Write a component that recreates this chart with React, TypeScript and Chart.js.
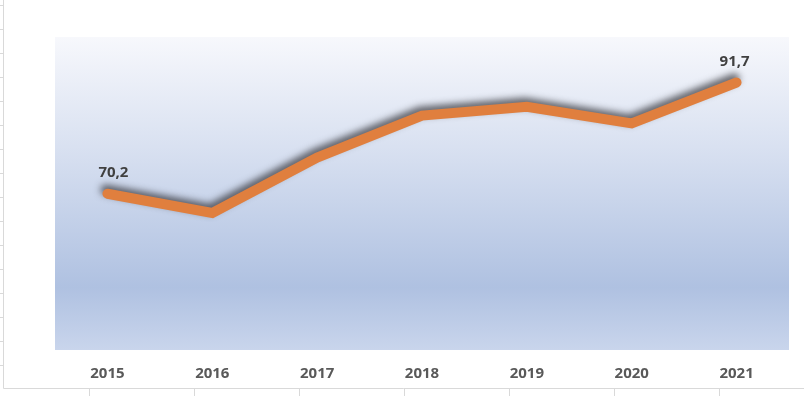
import React, { useEffect, useRef } from "react";
import { Chart, registerables } from "chart.js";

Chart.register(...registerables);

const years = ["2015", "2016", "2017", "2018", "2019", "2020", "2021"];
const values = [70.2, 66.5, 77.2, 85.3, 87.0, 83.8, 91.7];
const labeledIndexes = [0, 6];

export default function App() {
  const ref = useRef<HTMLCanvasElement | null>(null);

  useEffect(() => {
    document.body.style.margin = "0";
    const canvas = ref.current!;
    const bgPlugin = {
      id: "bg",
      beforeDraw(chart: any) {
        const { ctx, chartArea } = chart;
        const { left, right, top, bottom } = chartArea;
        ctx.save();
        const g = ctx.createLinearGradient(0, top, 0, bottom);
        g.addColorStop(0, "#f7f8fc");
        g.addColorStop(0.35, "#d9e1f1");
        g.addColorStop(0.8, "#afc1e1");
        g.addColorStop(1, "#c9d5ec");
        ctx.fillStyle = g;
        ctx.fillRect(left, top, right - left, bottom - top);
        // outer frame lines
        ctx.strokeStyle = "#d9d9d9";
        ctx.lineWidth = 1;
        ctx.beginPath();
        ctx.moveTo(3.5, 0);
        ctx.lineTo(3.5, 388.5);
        ctx.lineTo(804, 388.5);
        for (let y = 5.5; y < 388; y += 24) {
          ctx.moveTo(0, y);
          ctx.lineTo(3.5, y);
        }
        const xs = chart.scales.x;
        for (let i = 0; i < years.length; i++) {
          const px = Math.round(xs.getPixelForValue(i) - 18) + 0.5;
          ctx.moveTo(px, 388.5);
          ctx.lineTo(px, 396);
        }
        ctx.stroke();
        ctx.restore();
      },
      beforeDatasetDraw(chart: any) {
        const ctx = chart.ctx;
        ctx.save();
        ctx.shadowColor = "rgba(50,50,55,0.75)";
        ctx.shadowBlur = 7;
        ctx.shadowOffsetX = -2;
        ctx.shadowOffsetY = -4;
      },
      afterDatasetDraw(chart: any) {
        chart.ctx.restore();
      },
      afterDatasetsDraw(chart: any) {
        const { ctx } = chart;
        const meta = chart.getDatasetMeta(0);
        ctx.save();
        ctx.font = "bold 15px 'Open Sans', sans-serif";
        ctx.fillStyle = "#404040";
        ctx.textAlign = "center";
        ctx.textBaseline = "middle";
        for (const i of labeledIndexes) {
          const p = meta.data[i];
          const txt = values[i].toFixed(1).replace(".", ",");
          ctx.fillText(txt, p.x + (i === 0 ? 6 : -2), p.y - 21);
        }
        ctx.restore();
      },
    };

    const chart = new Chart(canvas, {
      type: "line",
      data: {
        labels: years,
        datasets: [
          {
            data: values,
            borderColor: "#e07f3e",
            borderWidth: 10,
            borderCapStyle: "round",
            borderJoinStyle: "miter",
            pointRadius: 0,
            tension: 0,
            fill: false,
          },
        ],
      },
      options: {
        animation: false,
        responsive: false,
        layout: { padding: { left: 55, right: 15, top: 37, bottom: 0 } },
        plugins: { legend: { display: false }, tooltip: { enabled: false } },
        scales: {
          x: {
            offset: true,
            grid: { display: false, drawTicks: false },
            border: { display: false },
            ticks: {
              color: "#595959",
              font: { family: "'Open Sans', sans-serif", size: 15, weight: "bold" },
              padding: 15,
              maxRotation: 0,
            },
            afterFit(scale: any) {
              scale.height = 46;
            },
          },
          y: {
            display: false,
            min: 40,
            max: 100.5,
          },
        },
      },
      plugins: [bgPlugin],
    });
    return () => chart.destroy();
  }, []);

  return <canvas ref={ref} width={804} height={396} style={{ display: "block" }} />;
}
